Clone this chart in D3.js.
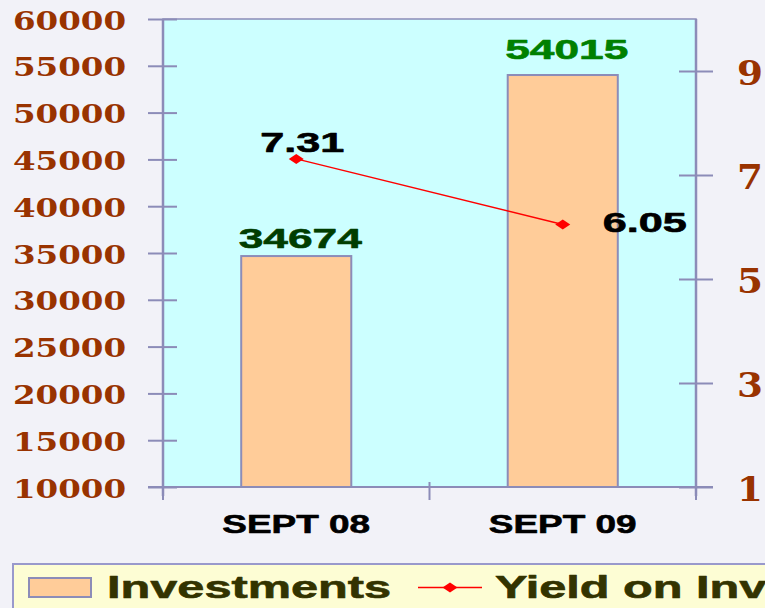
<!DOCTYPE html>
<html>
<head>
<meta charset="utf-8">
<script src="https://cdn.jsdelivr.net/npm/d3@7"></script>
<style>
  body { margin: 0; background: #f2f2f8; }
  svg { display: block; }
</style>
</head>
<body>
<svg id="chart" width="765" height="608"></svg>
<script>
// data
var categories = ["SEPT 08", "SEPT 09"];
var investments = [34674, 54015];
var yieldValues = [7.31, 6.05];
var yieldLabels = ["7.31", "6.05"];
var leftTicks = [10000, 15000, 20000, 25000, 30000, 35000, 40000, 45000, 50000, 55000, 60000];
var rightTicks = [1, 3, 5, 7, 9];
var legendNames = ["Investments", "Yield on Investments"];

var svg = d3.select("#chart"),
    plot = { left: 163, right: 696, top: 19, bottom: 487 };

var axisColor = "#8c8cb8";

// stretch text horizontally, the source picture is wide
function stretch(sel, k) {
    sel.each(function () {
        var w = this.getComputedTextLength();
        d3.select(this).attr("textLength", w * k).attr("lengthAdjust", "spacingAndGlyphs");
    });
}

// a thin outline in the fill colour makes the bold text heavier
function heavy(sel, w) {
    sel.attr("stroke", function () { return d3.select(this).attr("fill"); })
        .attr("stroke-width", w)
        .attr("stroke-linejoin", "round");
}

var x = d3.scaleBand()
    .domain(categories)
    .range([plot.left, plot.right])
    .paddingInner(0.587)
    .paddingOuter(0.2935);

var y = d3.scaleLinear().domain([10000, 60000]).range([plot.bottom, plot.top]);
var y2 = d3.scaleLinear().domain([1, 10]).range([plot.bottom, plot.top]);

// plot background
svg.append("rect")
    .attr("x", plot.left)
    .attr("y", plot.top)
    .attr("width", plot.right - plot.left)
    .attr("height", plot.bottom - plot.top)
    .attr("fill", "#ccffff")
    .attr("stroke", axisColor)
    .attr("stroke-width", 1.5);

// bars
svg.selectAll(".bar")
    .data(investments)
    .enter().append("rect")
    .attr("class", "bar")
    .attr("x", function (d, i) { return x(categories[i]); })
    .attr("width", x.bandwidth())
    .attr("y", function (d) { return y(d); })
    .attr("height", function (d) { return y(10000) - y(d); })
    .attr("fill", "#ffcc99")
    .attr("stroke", axisColor)
    .attr("stroke-width", 2);

// left axis
var gl = svg.append("g")
    .attr("transform", "translate(" + plot.left + ",0)")
    .call(d3.axisLeft(y).tickValues(leftTicks).tickSize(15).tickPadding(22).tickFormat(d3.format("d")));
gl.select(".domain").remove();
gl.selectAll(".tick line").attr("x1", 14).attr("stroke", axisColor).attr("stroke-width", 2);
gl.selectAll(".tick text")
    .attr("fill", "#993300")
    .attr("font-family", "'DejaVu Serif', serif")
    .attr("font-weight", "bold")
    .attr("font-size", 26)
    .attr("dy", 10)
    .call(stretch, 1.25);
gl.append("line")
    .attr("y1", plot.top).attr("y2", plot.bottom + 9)
    .attr("stroke", axisColor).attr("stroke-width", 2.5);

// right axis
var gr = svg.append("g")
    .attr("transform", "translate(" + plot.right + ",0)")
    .call(d3.axisRight(y2).tickValues(rightTicks).tickSize(17).tickPadding(24));
gr.select(".domain").remove();
gr.selectAll(".tick line").attr("x1", -17).attr("stroke", axisColor).attr("stroke-width", 2);
gr.selectAll(".tick text")
    .attr("fill", "#993300")
    .attr("font-family", "'DejaVu Serif', serif")
    .attr("font-weight", "bold")
    .attr("font-size", 33)
    .attr("dy", 13)
    .call(stretch, 1.13);
gr.append("line")
    .attr("y1", plot.top).attr("y2", plot.bottom + 9)
    .attr("stroke", axisColor).attr("stroke-width", 2.5);

// bottom axis
var gb = svg.append("g");
gb.append("line")
    .attr("x1", plot.left - 15).attr("x2", plot.right + 17)
    .attr("y1", plot.bottom).attr("y2", plot.bottom)
    .attr("stroke", axisColor).attr("stroke-width", 2);
var boundaries = d3.range(categories.length + 1).map(function (i) {
    return plot.left + i * x.step();
});
gb.selectAll(".xtick")
    .data(boundaries)
    .enter().append("line")
    .attr("x1", function (d) { return d; })
    .attr("x2", function (d) { return d; })
    .attr("y1", plot.bottom - 5)
    .attr("y2", plot.bottom + 13)
    .attr("stroke", axisColor)
    .attr("stroke-width", 2);
gb.selectAll(".xlabel")
    .data(categories)
    .enter().append("text")
    .attr("x", function (d) { return x(d) + x.bandwidth() / 2; })
    .attr("y", 533)
    .attr("text-anchor", "middle")
    .attr("font-family", "'Liberation Sans', Arial, sans-serif")
    .attr("font-weight", "bold")
    .attr("font-size", 26)
    .attr("fill", "#000")
    .text(function (d) { return d; })
    .call(stretch, 1.42)
    .call(heavy, 0.6);

// bar value labels
var barLabelDy = [-8, -16];
var barLabelColor = ["#003d00", "#008000"];
svg.selectAll(".barlabel")
    .data(investments)
    .enter().append("text")
    .attr("x", function (d, i) { return x(categories[i]) + x.bandwidth() / 2 + 4; })
    .attr("y", function (d, i) { return y(d) + barLabelDy[i]; })
    .attr("text-anchor", "middle")
    .attr("font-family", "'Liberation Sans', Arial, sans-serif")
    .attr("font-weight", "bold")
    .attr("font-size", 28)
    .attr("fill", function (d, i) { return barLabelColor[i]; })
    .text(function (d) { return d; })
    .call(stretch, 1.58)
    .call(heavy, 0.6);

// yield line
var line = d3.line()
    .x(function (d, i) { return x(categories[i]) + x.bandwidth() / 2; })
    .y(function (d) { return y2(d); });

svg.append("path")
    .attr("fill", "none")
    .attr("stroke", "#ff0000")
    .attr("stroke-width", 1.5)
    .attr("d", line(yieldValues));

var diamond = "M0,-5L7.5,0L0,5L-7.5,0Z";
svg.selectAll(".dot")
    .data(yieldValues)
    .enter().append("path")
    .attr("d", diamond)
    .attr("fill", "#ff0000")
    .attr("transform", function (d, i) {
        return "translate(" + (x(categories[i]) + x.bandwidth() / 2) + "," + y2(d) + ")";
    });

// yield labels: first above the point, second to its right
svg.selectAll(".ylabel")
    .data(yieldValues)
    .enter().append("text")
    .attr("x", function (d, i) { return x(categories[i]) + x.bandwidth() / 2 + (i === 0 ? 6 : 40); })
    .attr("y", function (d, i) { return y2(d) + (i === 0 ? -7 : 8); })
    .attr("text-anchor", function (d, i) { return i === 0 ? "middle" : "start"; })
    .attr("font-family", "'Liberation Sans', Arial, sans-serif")
    .attr("font-weight", "bold")
    .attr("font-size", 27)
    .attr("fill", "#000")
    .text(function (d, i) { return yieldLabels[i]; })
    .call(stretch, 1.6)
    .call(heavy, 0.6);

// legend
var lg = svg.append("g").attr("transform", "translate(13,564)");
lg.append("rect")
    .attr("width", 800).attr("height", 60)
    .attr("fill", "#fdfdd4")
    .attr("stroke", "#9999cc")
    .attr("stroke-width", 2);
lg.append("rect")
    .attr("x", 16).attr("y", 14)
    .attr("width", 62).attr("height", 19)
    .attr("fill", "#ffcc99")
    .attr("stroke", axisColor)
    .attr("stroke-width", 2);
lg.append("line")
    .attr("x1", 405).attr("x2", 469)
    .attr("y1", 23.5).attr("y2", 23.5)
    .attr("stroke", "#ff0000").attr("stroke-width", 1.5);
lg.append("path")
    .attr("d", diamond)
    .attr("fill", "#ff0000")
    .attr("transform", "translate(437,23.5)");
lg.selectAll(".ltext")
    .data(legendNames)
    .enter().append("text")
    .attr("x", function (d, i) { return i === 0 ? 94 : 482; })
    .attr("y", 34)
    .attr("font-family", "'Liberation Sans', Arial, sans-serif")
    .attr("font-weight", "bold")
    .attr("font-size", 31)
    .attr("fill", "#333300")
    .text(function (d) { return d; })
    .call(stretch, 1.57)
    .call(heavy, 0.6);
</script>
</body>
</html>
